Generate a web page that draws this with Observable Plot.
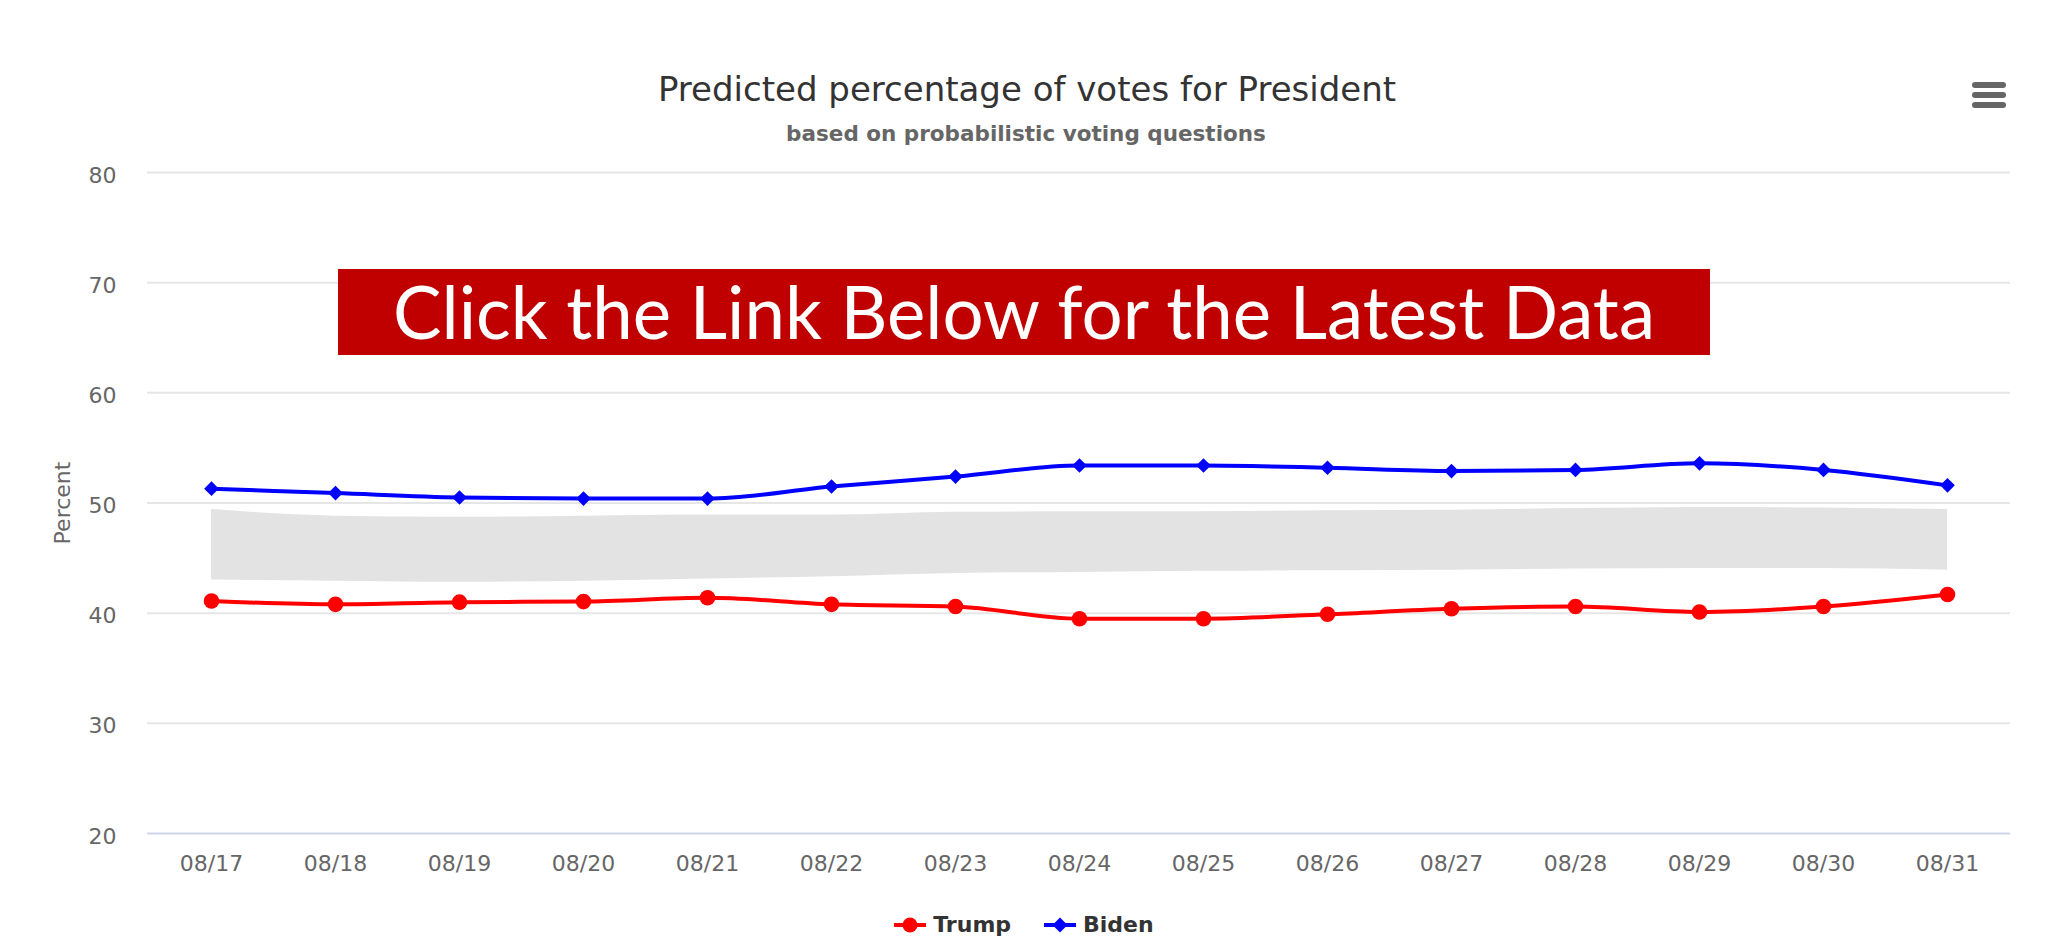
<!DOCTYPE html>
<html><head><meta charset="utf-8">
<script src="https://cdn.jsdelivr.net/npm/d3@7"></script>
<script src="https://cdn.jsdelivr.net/npm/@observablehq/plot@0.6"></script>
<style>
body{margin:0;background:#fff;}
#page{position:relative;width:2048px;height:949px;overflow:hidden;font-family:"DejaVu Sans",sans-serif;background:#fff;}
.abs{position:absolute;}
.bar{position:absolute;left:1972px;width:34px;height:6px;border-radius:3px;background:#666;}
#legend{position:absolute;left:0;top:900px;width:2048px;height:49px;display:flex;justify-content:center;align-items:center;gap:33px;}
.item{display:flex;align-items:center;font-weight:bold;font-size:22px;color:#333;}
.item span{margin-left:7px;}
</style></head><body><div id="page"></div>
<script>
// ---- data ----
const dates = ["08/17","08/18","08/19","08/20","08/21","08/22","08/23","08/24","08/25","08/26","08/27","08/28","08/29","08/30","08/31"];
const trump = [41.1, 40.8, 41.0, 41.05, 41.4, 40.8, 40.6, 39.5, 39.5, 39.9, 40.4, 40.6, 40.1, 40.6, 41.7];
const biden = [51.3, 50.9, 50.5, 50.4, 50.4, 51.5, 52.4, 53.4, 53.4, 53.2, 52.9, 53.0, 53.6, 53.0, 51.6];
const bandLow = [43.0, 42.9, 42.8, 42.9, 43.1, 43.3, 43.6, 43.7, 43.8, 43.85, 43.9, 44.0, 44.05, 44.05, 43.9];
const bandHigh = [49.4, 48.8, 48.7, 48.8, 48.9, 48.9, 49.15, 49.2, 49.2, 49.3, 49.35, 49.5, 49.6, 49.55, 49.4];
const yTicks = [20, 30, 40, 50, 60, 70, 80];
const seriesNames = ["Trump", "Biden"];
const seriesColors = ["#ff0000", "#0000ff"];
const titleText = "Predicted percentage of votes for President";
const subtitleText = "based on probabilistic voting questions";
const yLabel = "Percent";
const bannerText = "Click the Link Below for the Latest Data";

const rows = dates.map((d, i) => ({date: d, trump: trump[i], biden: biden[i], low: bandLow[i], high: bandHigh[i]}));
const page = document.getElementById("page");
const NS = "http://www.w3.org/2000/svg";

// header
const head = document.createElementNS(NS, "svg");
head.setAttribute("width", 2048); head.setAttribute("height", 150);
head.setAttribute("class", "abs"); head.style.left = "0px"; head.style.top = "0px";
head.innerHTML = `<text x="1027" y="101" text-anchor="middle" font-family="DejaVu Sans" font-size="34" fill="#333">${titleText}</text>
<text x="1026" y="141" text-anchor="middle" font-family="DejaVu Sans" font-weight="bold" font-size="21.5" fill="#666">${subtitleText}</text>`;
page.appendChild(head);

// menu icon
[85, 95, 105].forEach(y => { const b = document.createElement("div"); b.className = "bar"; b.style.top = (y - 3) + "px"; page.appendChild(b); });

// chart
const chart = Plot.plot({
  width: 2048, height: 750,
  marginTop: 22, marginBottom: 67, marginLeft: 147, marginRight: 38,
  style: {fontFamily: "DejaVu Sans", fontSize: "22px", color: "#666", background: "transparent", overflow: "visible"},
  x: {type: "point", domain: dates, padding: 0.5},
  y: {domain: [20, 80]},
  marks: [
    Plot.ruleY(yTicks.filter(t => t !== 20), {stroke: "#e6e6e6", strokeWidth: 2}),
    Plot.ruleY([20], {stroke: "#ccd6eb", strokeWidth: 2}),
    Plot.areaY(rows, {x: "date", y1: "low", y2: "high", fill: "#e3e3e3", curve: "monotone-x"}),
    Plot.lineY(rows, {x: "date", y: "trump", stroke: seriesColors[0], strokeWidth: 4, curve: "monotone-x"}),
    Plot.lineY(rows, {x: "date", y: "biden", stroke: seriesColors[1], strokeWidth: 4, curve: "monotone-x"}),
    Plot.dot(rows, {x: "date", y: "trump", r: 7.8, fill: seriesColors[0], symbol: "circle"}),
    Plot.dot(rows, {x: "date", y: "biden", r: 6.6, fill: seriesColors[1], symbol: "diamond2"}),
    Plot.axisX({tickSize: 0, tickPadding: 22, fontSize: 22, label: null}),
    Plot.axisY({ticks: yTicks, tickSize: 0, tickPadding: 31, dy: 3, fontSize: 22, label: yLabel, labelAnchor: "center", labelArrow: "none", labelOffset: 93})
  ]
});
const wrap = document.createElement("div");
wrap.className = "abs"; wrap.style.left = "0px"; wrap.style.top = "150px";
wrap.appendChild(chart);
page.appendChild(wrap);

// legend
const legend = document.createElement("div");
legend.id = "legend";
seriesNames.forEach((name, i) => {
  const it = document.createElement("div"); it.className = "item";
  const sym = i === 0
    ? `<circle cx="16" cy="10" r="7.5" fill="${seriesColors[i]}"/>`
    : `<path d="M16,2.5L23.5,10L16,17.5L8.5,10Z" fill="${seriesColors[i]}"/>`;
  it.innerHTML = `<svg width="32" height="20"><line x1="0" x2="32" y1="10" y2="10" stroke="${seriesColors[i]}" stroke-width="4"/>${sym}</svg><span>${name}</span>`;
  legend.appendChild(it);
});
page.appendChild(legend);

// banner overlay
const banner = document.createElementNS(NS, "svg");
banner.setAttribute("width", 1372); banner.setAttribute("height", 110);
banner.setAttribute("class", "abs"); banner.style.left = "338px"; banner.style.top = "259px";
banner.style.overflow = "visible";
banner.innerHTML = `<rect x="0" y="10" width="1372" height="86" fill="#c00000"/>
<text x="686" y="80" text-anchor="middle" font-family="Lato" font-size="74" fill="#fff" textLength="1262" lengthAdjust="spacingAndGlyphs">${bannerText}</text>`;
page.appendChild(banner);
</script></body></html>
